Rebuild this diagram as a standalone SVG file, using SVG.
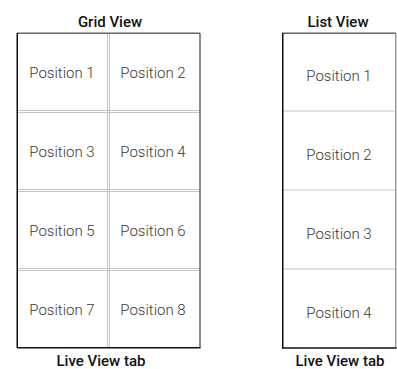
<svg xmlns="http://www.w3.org/2000/svg" width="397" height="369" viewBox="0 0 397 369">
<style>
.t{font-family:Roboto,"Liberation Sans",sans-serif;font-size:15px;fill:#3a3a3a;text-anchor:middle;font-weight:300}
.h{font-family:Roboto,"Liberation Sans",sans-serif;font-size:15px;fill:#111;text-anchor:middle;font-weight:500}
.d{stroke:#c4c4c4;stroke-width:1;fill:none}
.dk{stroke:#111;stroke-width:1.5;fill:none}
.gr{stroke:#666;stroke-width:1.5;fill:none}
</style>
<rect width="397" height="369" fill="#fff"/>
<g id="grid-view">
<text class="h" x="110" y="27">Grid View</text>
<g id="grid-dividers">
<line class="d" x1="107.5" y1="33" x2="107.5" y2="348"/>
<line class="d" x1="109.5" y1="33" x2="109.5" y2="348"/>
<line class="d" x1="17" y1="110.5" x2="200" y2="110.5"/>
<line class="d" x1="17" y1="112.5" x2="200" y2="112.5"/>
<line class="d" x1="17" y1="189.5" x2="200" y2="189.5"/>
<line class="d" x1="17" y1="191.5" x2="200" y2="191.5"/>
<line class="d" x1="17" y1="268.5" x2="200" y2="268.5"/>
<line class="d" x1="17" y1="270.5" x2="200" y2="270.5"/>
</g>
<line class="gr" x1="17" y1="33.25" x2="200" y2="33.25"/>
<line class="gr" x1="200" y1="33" x2="200" y2="348"/>
<line class="dk" x1="17.25" y1="33" x2="17.25" y2="348"/>
<line class="dk" x1="17" y1="347.75" x2="200.5" y2="347.75"/>
<g id="g1"><text class="t" x="62" y="78">Position 1</text></g>
<g id="g2"><text class="t" x="153" y="78">Position 2</text></g>
<g id="g3"><text class="t" x="62" y="157">Position 3</text></g>
<g id="g4"><text class="t" x="153" y="157">Position 4</text></g>
<g id="g5"><text class="t" x="62" y="236">Position 5</text></g>
<g id="g6"><text class="t" x="153" y="236">Position 6</text></g>
<g id="g7"><text class="t" x="62" y="315">Position 7</text></g>
<g id="g8"><text class="t" x="153" y="315">Position 8</text></g>
<text class="h" x="101" y="366">Live View tab</text>
</g>
<g id="list-view">
<text class="h" x="338" y="27">List View</text>
<line class="d" x1="282" y1="111" x2="396" y2="111" stroke-width="1.5"/>
<line class="d" x1="282" y1="190" x2="396" y2="190" stroke-width="1.5"/>
<line class="d" x1="282" y1="269" x2="396" y2="269" stroke-width="1.5"/>
<line class="gr" x1="282" y1="33.25" x2="396" y2="33.25"/>
<line x1="395.75" y1="33" x2="395.75" y2="348" stroke="#999" stroke-width="1.5"/>
<line class="dk" x1="282.75" y1="33" x2="282.75" y2="348.5"/>
<line class="dk" x1="282" y1="348" x2="396.5" y2="348"/>
<g id="l1"><text class="t" x="339" y="81">Position 1</text></g>
<g id="l2"><text class="t" x="339" y="160">Position 2</text></g>
<g id="l3"><text class="t" x="339" y="239">Position 3</text></g>
<g id="l4"><text class="t" x="339" y="318">Position 4</text></g>
<text class="h" x="340" y="366">Live View tab</text>
</g>
</svg>
